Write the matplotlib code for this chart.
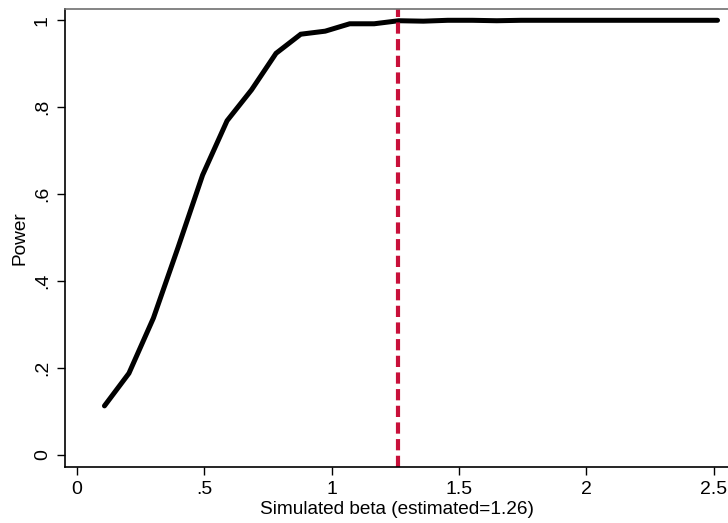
import matplotlib
matplotlib.use("Agg")
import matplotlib.pyplot as plt

plt.rcParams['font.family'] = ['Liberation Sans', 'DejaVu Sans']

# simulated beta values and power
beta = [0.109, 0.205, 0.301, 0.398, 0.494, 0.590, 0.686, 0.782, 0.879, 0.975,
        1.071, 1.167, 1.263, 1.360, 1.456, 1.552, 1.648, 1.744, 1.841, 1.937,
        2.033, 2.129, 2.225, 2.322, 2.418, 2.514]
power = [0.113, 0.188, 0.315, 0.478, 0.644, 0.769, 0.840, 0.924, 0.968, 0.975,
         0.992, 0.992, 0.999, 0.998, 1.0, 1.0, 0.999, 1.0, 1.0, 1.0,
         1.0, 1.0, 1.0, 1.0, 1.0, 1.0]
estimated = 1.26

xticks = [0, 0.5, 1, 1.5, 2, 2.5]
xticklabels = ['0', '.5', '1', '1.5', '2', '2.5']
yticks = [0, 0.2, 0.4, 0.6, 0.8, 1]
yticklabels = ['0', '.2', '.4', '.6', '.8', '1']

fig = plt.figure(figsize=(7.28, 5.23), dpi=100)
W, H = 728, 523
left, right, top, bottom = 64.7, 729, 9.3, 467
ax = fig.add_axes([left / W, 1 - bottom / H, (right - left) / W, (bottom - top) / H])

ax.plot(beta, power, color='black', linewidth=3.6, solid_capstyle='round',
        solid_joinstyle='miter')
ax.axvline(estimated, color='#c8103a', linewidth=3.0, dashes=(2.7, 1.3))

ax.set_xlim(-0.047, (right - 76.7) / 254.9)
ax.set_ylim(-0.0276, 1.0253)

ax.set_xticks(xticks)
ax.set_xticklabels(xticklabels)
ax.set_yticks(yticks)
ax.set_yticklabels(yticklabels, rotation=90, va='center')
ax.tick_params(axis='both', length=6, width=1, labelsize=14, color='black')
ax.tick_params(axis='x', pad=4)
ax.tick_params(axis='y', pad=4)

for s in ['left', 'bottom']:
    ax.spines[s].set_color('black')
    ax.spines[s].set_linewidth(1.2)
ax.spines['top'].set_color('#707070')
ax.spines['top'].set_linewidth(1.2)
ax.spines['right'].set_visible(False)

ax.set_xlabel('Simulated beta (estimated=1.26)', fontsize=13.7, labelpad=2)
ax.set_ylabel('Power', fontsize=13.7, va='center')
ax.yaxis.set_label_coords((20 - left) / (right - left), 0.5)

fig.savefig('out.png', dpi=100)
